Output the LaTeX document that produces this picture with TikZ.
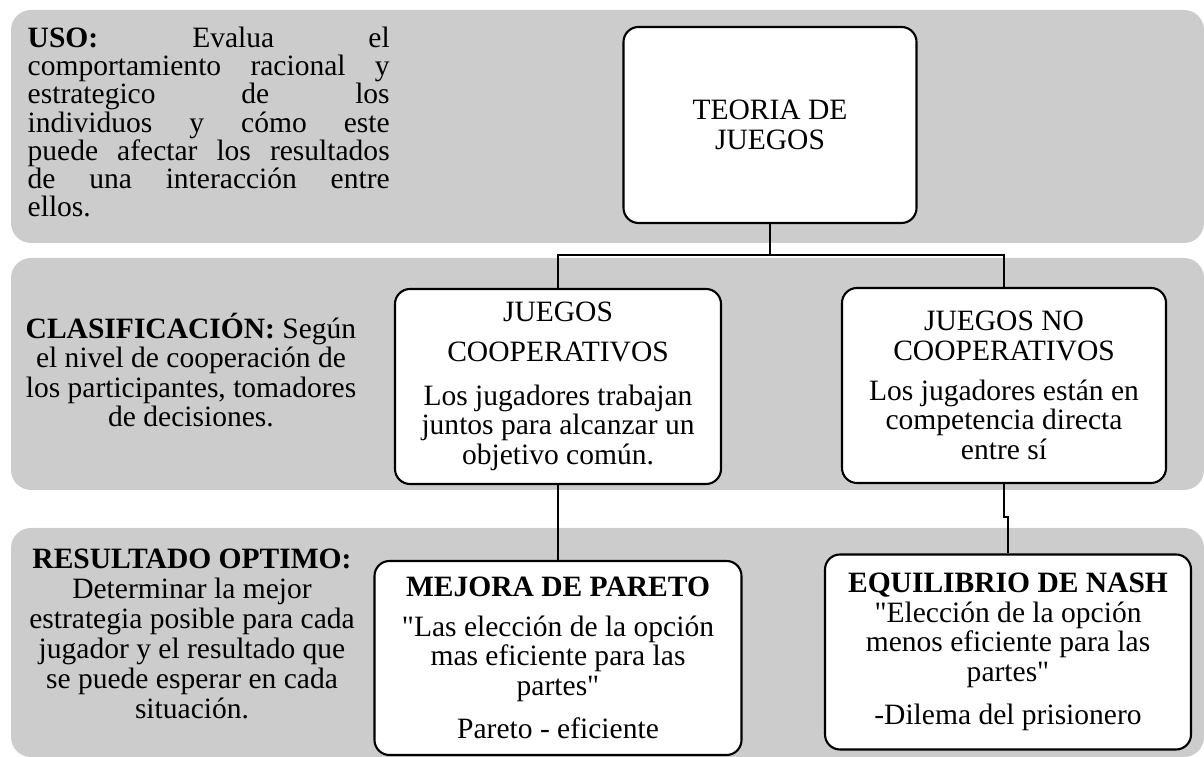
\documentclass[tikz,border=0pt]{standalone}
\usepackage{fontspec}
\setmainfont{Liberation Serif}[Ligatures=TeXOff]
\usepackage{tikz}
\tolerance=10000
\hbadness=10000
\hyphenpenalty=10000

\tikzset{
  band/.style={fill=black!20, draw=none, rounded corners=0.2cm},
  box/.style={draw, fill=white, line width=0.6pt, rounded corners=0.15cm, align=center, inner sep=0pt},
  link/.style={line width=0.6pt},
}

\begin{document}
\begin{tikzpicture}[font=\fontsize{8.4}{8.4}\selectfont]
        \useasboundingbox (0,0) rectangle (12.04,7.57);

        % gray bands
        \draw[band] (0.11,7.47) rectangle (12.04,5.14);
        \draw[band] (0.11,4.99) rectangle (12.04,2.67);
        \draw[band] (0.11,2.29) rectangle (12.04,0.00);

        % left column texts
        \node[anchor=north west, text width=3.62cm, align=justify, inner sep=0pt,
              font=\fontsize{8.4}{8.05}\selectfont] (uso) at (0.27,7.31)
            {\textbf{USO:} Evalua el\linebreak comportamiento racional y\linebreak estrategico de los\linebreak individuos y cómo este\linebreak puede afectar los resultados\linebreak de una interacción entre\linebreak ellos.};
        \node[align=center, inner sep=0pt] (clasif) at (1.91,3.87)
            {\textbf{CLASIFICACIÓN:} Según\\el nivel de cooperación de\\los participantes, tomadores\\de decisiones.};
        \node[align=center, inner sep=0pt, font=\fontsize{8.4}{8.5}\selectfont] (optimo) at (1.92,1.23)
            {\textbf{RESULTADO OPTIMO:}\\Determinar la mejor\\estrategia posible para cada\\jugador y el resultado que\\se puede esperar en cada\\situación.};

        % boxes
        \node[box, minimum width=2.93cm, minimum height=1.96cm] (teoria) at (7.70,6.32) {TEORIA DE\\JUEGOS};
        \node[box, minimum width=3.26cm, minimum height=1.95cm] (coop) at (5.58,3.705)
            {JUEGOS\\[3pt]COOPERATIVOS\\[4pt]Los jugadores trabajan\\juntos para alcanzar un\\objetivo común.};
        \node[box, minimum width=3.24cm, minimum height=1.95cm] (nocoop) at (10.04,3.715)
            {JUEGOS NO\\COOPERATIVOS\\[3pt]Los jugadores están en\\competencia directa\\entre sí};
        \node[box, minimum width=3.67cm, minimum height=1.94cm] (pareto) at (5.58,0.99)
            {\textbf{MEJORA DE PARETO}\\[3pt]"Las elección de la opción\\mas eficiente para las\\partes"\\[4pt]Pareto - eficiente};
        \node[box, minimum width=3.66cm, minimum height=1.95cm] (nash) at (10.08,1.05)
            {\textbf{EQUILIBRIO DE NASH}\\"Elección de la opción\\menos eficiente para las\\partes"\\[4pt]-Dilema del prisionero};

        % connectors
        \coordinate (split) at (7.70,5.02);
        \draw[link] (teoria.south) -- (split) -| (coop.north);
        \draw[link] (split) -| (nocoop.north);
        \draw[link] (coop.south) -- (pareto.north);
        \coordinate (jog) at (10.04,2.40);
        \draw[link] (nocoop.south) -- (jog) -| (nash.north);
    \end{tikzpicture}
\end{document}
